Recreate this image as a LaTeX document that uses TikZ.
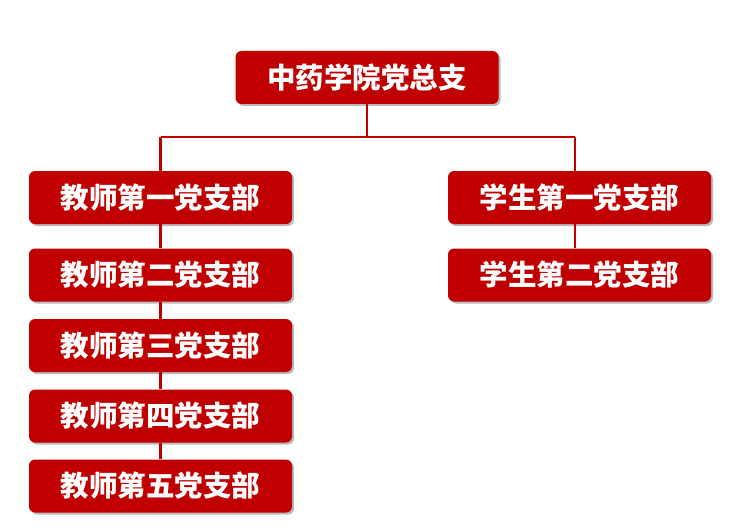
\documentclass[tikz,border=0pt]{standalone}
\usepackage{fontspec}
\newfontfamily\cjk{Noto Sans CJK SC}[BoldFont={Noto Sans CJK SC Black}]
\usetikzlibrary{calc,shadows}
\definecolor{dred}{HTML}{C00000}
\newcommand{\BoxW}{263pt}
\tikzset{Branch/.style={
    inner sep=0pt,
    minimum width=\BoxW,
    minimum height=53pt,
    rounded corners=6pt,
    fill=dred,
    text=white,
    font=\cjk\bfseries\fontsize{28.5}{28.5}\selectfont,
    drop shadow={shadow xshift=2pt,shadow yshift=-2pt,opacity=0.45,fill=black!60},
    }
}

\begin{document}
\begin{tikzpicture}[x=1pt,y=1pt,
    conn/.style={draw=dred, line width=2.8pt},
]
\useasboundingbox (0,0) rectangle (746,-532);
\node [Branch] (top) at (367,-77.5) {中药学院党总支};
% teachers
\node [Branch] (t1) at (160.5,-197.5) {教师第一党支部};
\node [Branch] (t2) at (160.5,-275) {教师第二党支部};
\node [Branch] (t3) at (160.5,-345.5) {教师第三党支部};
\node [Branch] (t4) at (160.5,-416) {教师第四党支部};
\node [Branch] (t5) at (160.5,-486) {教师第五党支部};
% students
\node [Branch] (s1) at (579.5,-197.5) {学生第一党支部};
\node [Branch] (s2) at (579.5,-275) {学生第二党支部};
\coordinate (bar) at (367,-137);
\coordinate (rj) at (575,-137);
\draw [conn] (top.south) -- (bar);
\draw [conn] (t1.north |- bar) -- (rj);
\draw [conn] (t1.north |- bar) -- (t1.north);
\draw [conn] (rj) -- (rj |- s1.north);
\draw [conn] (t1.south) -- (t2.north);
\draw [conn] (t2.south) -- (t3.north);
\draw [conn] (t3.south) -- (t4.north);
\draw [conn] (t4.south) -- (t5.north);
\draw [conn] (rj |- s1.south) -- (rj |- s2.north);
\end{tikzpicture}
\end{document}
